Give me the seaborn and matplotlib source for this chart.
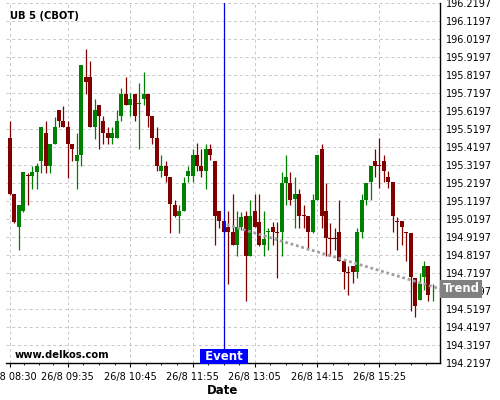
import numpy as np
import pandas as pd
import matplotlib
matplotlib.use("Agg")
import matplotlib.pyplot as plt
import matplotlib.transforms as mtransforms
from matplotlib.ticker import FixedLocator, FormatStrFormatter
import seaborn as sns

sns.set_style("ticks")
plt.rcParams['font.family'] = ['DejaVu Sans']
plt.rcParams['text.color'] = 'black'
plt.rcParams['axes.labelcolor'] = 'black'

# UB 5 (CBOT), 5 minute bars from 26/8 08:30
opens = [195.472, 195.161, 194.974, 195.064, 195.260, 195.257, 195.281, 195.344, 195.500, 195.316,
         195.437, 195.626, 195.563, 195.531, 195.437, 195.344, 195.377, 195.809, 195.809, 195.531,
         195.653, 195.563, 195.500, 195.473, 195.473, 195.592, 195.718, 195.655, 195.718, 195.660,
         195.687, 195.718, 195.592, 195.473, 195.287, 195.316, 195.255, 195.100, 195.035, 195.068,
         195.257, 195.257, 195.377, 195.318, 195.287, 195.409, 195.344, 195.066, 195.007, 194.974,
         194.948, 194.877, 194.974, 195.035, 194.818, 195.066, 195.003, 194.877, 194.947, 194.974,
         194.947, 194.948, 195.220, 195.220, 195.130, 195.159, 195.038, 195.035, 194.946, 195.127,
         195.409, 195.066, 194.914, 194.914, 194.946, 194.790, 194.724, 194.757, 194.724, 194.946,
         195.127, 195.224, 195.344, 195.318, 195.344, 195.253, 195.224, 195.007, 195.007, 194.945,
         194.942, 194.692, 194.572, 194.696, 194.757, 194.635]
highs = [195.566, 195.161, 195.098, 195.281, 195.279, 195.313, 195.330, 195.531, 195.563, 195.437,
         195.590, 195.626, 195.651, 195.563, 195.437, 195.500, 195.876, 195.963, 195.901, 195.687,
         195.653, 195.592, 195.531, 195.531, 195.624, 195.748, 195.809, 195.720, 195.718, 195.779,
         195.840, 195.718, 195.592, 195.531, 195.376, 195.344, 195.255, 195.127, 195.098, 195.253,
         195.316, 195.409, 195.442, 195.409, 195.439, 195.439, 195.344, 195.066, 195.010, 195.066,
         195.159, 195.066, 195.060, 195.066, 195.125, 195.159, 195.159, 195.066, 194.970, 195.003,
         195.003, 195.281, 195.377, 195.281, 195.253, 195.187, 195.100, 195.035, 195.159, 195.377,
         195.439, 195.220, 195.001, 194.970, 195.127, 194.790, 194.757, 194.757, 194.970, 195.159,
         195.220, 195.316, 195.409, 195.470, 195.377, 195.285, 195.224, 195.031, 195.007, 194.946,
         194.942, 194.692, 194.720, 194.785, 194.757, 194.659]
lows = [195.155, 195.001, 194.848, 195.060, 195.100, 195.189, 195.185, 195.277, 195.277, 195.277,
        195.437, 195.531, 195.531, 195.251, 195.342, 195.185, 195.316, 195.718, 195.531, 195.468,
        195.407, 195.437, 195.439, 195.439, 195.473, 195.563, 195.653, 195.594, 195.563, 195.407,
        195.655, 195.531, 195.437, 195.285, 195.253, 195.224, 194.942, 195.031, 194.942, 195.068,
        195.224, 195.224, 195.285, 195.253, 195.187, 195.346, 194.877, 194.970, 194.940, 194.660,
        194.877, 194.813, 194.960, 194.563, 194.818, 194.974, 194.870, 194.813, 194.846, 194.877,
        194.692, 194.815, 195.100, 195.100, 194.970, 194.970, 194.970, 194.850, 194.942, 195.125,
        194.970, 194.816, 194.813, 194.850, 194.790, 194.631, 194.600, 194.664, 194.692, 194.914,
        195.100, 195.127, 195.253, 195.192, 195.224, 195.192, 194.946, 194.850, 194.877, 194.790,
        194.507, 194.476, 194.570, 194.627, 194.568, 194.568]
closes = [195.161, 195.005, 195.098, 195.281, 195.258, 195.283, 195.314, 195.531, 195.316, 195.437,
          195.531, 195.563, 195.531, 195.437, 195.409, 195.377, 195.876, 195.783, 195.531, 195.626,
          195.592, 195.500, 195.473, 195.500, 195.563, 195.718, 195.653, 195.687, 195.592, 195.662,
          195.718, 195.592, 195.473, 195.318, 195.316, 195.257, 195.103, 195.035, 195.066, 195.222,
          195.285, 195.377, 195.318, 195.285, 195.409, 195.377, 195.035, 195.007, 194.946, 194.946,
          194.877, 194.974, 195.033, 194.818, 195.035, 194.974, 194.877, 194.911, 194.949, 194.948,
          194.945, 195.220, 195.252, 195.127, 195.159, 195.035, 195.036, 194.946, 195.127, 195.377,
          195.035, 194.914, 194.912, 194.912, 194.790, 194.724, 194.722, 194.724, 194.946, 195.127,
          195.220, 195.316, 195.316, 195.316, 195.285, 195.224, 195.035, 195.005, 194.974, 194.943,
          194.696, 194.540, 194.661, 194.757, 194.600, 194.637]

tick_bars = [0, 13, 27, 41, 55, 69, 83]
event_bar = 48
trend_bars = [48.7, 96.6]
trend_prices = [194.990, 194.633]
y_min, y_max = 194.2197, 196.2197

times = pd.date_range("2023-08-26 08:30", periods=len(opens), freq="5min")
df = pd.DataFrame({"open": opens, "high": highs, "low": lows, "close": closes})
df["bar"] = np.arange(len(df))
df["up"] = df["close"] >= df["open"]
colors = np.where(df["up"], "#008000", "#800000")
body_bottom = df[["open", "close"]].min(axis=1)
body_height = (df["close"] - df["open"]).abs().clip(lower=0.005)

fig = plt.figure(figsize=(5, 4), dpi=100)
ax = fig.add_axes([0.012, 0.092, 0.868, 0.9])

ax.vlines(df["bar"], df["low"], df["high"], colors=colors, lw=0.9, zorder=2)
ax.bar(df["bar"], body_height, bottom=body_bottom, width=0.9, color=colors, linewidth=0, zorder=2)

sns.lineplot(x=trend_bars, y=trend_prices, ax=ax, color="#a0a0a0", lw=2,
             linestyle=(0, (1, 1)), zorder=3)
ax.axvline(event_bar, color="#0000e0", lw=0.9, zorder=4)

ax.set_xlim(-0.9, 96.6)
ax.set_ylim(y_min, y_max)

# ticks
ax.yaxis.tick_right()
yt = y_min + 0.1 * np.arange(21)
ax.yaxis.set_major_locator(FixedLocator(yt))
ax.yaxis.set_minor_locator(FixedLocator(y_min + 0.02 * np.arange(101)))
ax.yaxis.set_major_formatter(FormatStrFormatter("%.4f"))

minor_x = []
edges = tick_bars + [tick_bars[-1] + 14]
for a, b in zip(edges[:-1], edges[1:]):
    minor_x += list(np.linspace(a, b, 5)[1:4])
ax.xaxis.set_major_locator(FixedLocator(tick_bars))
ax.xaxis.set_minor_locator(FixedLocator(minor_x))
ax.set_xticklabels([f"{times[i].day}/{times[i].month} {times[i]:%H:%M}" for i in tick_bars])

ax.tick_params(which="major", length=3, width=0.8, labelsize=7, colors="black", pad=1.5)
ax.tick_params(axis="x", which="major", pad=3)
ax.tick_params(which="minor", length=1.5, width=0.6, colors="black")

ax.grid(True, which="major", color="#c8c8c8", ls=(0, (3, 3)), lw=0.7)
ax.set_axisbelow(True)

sns.despine(ax=ax, left=True, top=True, right=False, bottom=False)
for s in ["right", "bottom"]:
    ax.spines[s].set_color("black")
    ax.spines[s].set_linewidth(1)

ax.set_xlabel("Date", fontsize=8.5, fontweight="bold", labelpad=2)
ax.set_ylabel("")

# labels
fig.text(10 / 500, 1 - 11 / 400, "UB 5 (CBOT)", fontsize=7.2, fontweight="bold", va="top", ha="left")
fig.text(15 / 500, 1 - 357.5 / 400, "www.delkos.com", fontsize=7.2, fontweight="bold",
         va="baseline", ha="left")

ev_tr = mtransforms.blended_transform_factory(ax.transData, ax.transAxes)
ax.text(event_bar, 0.0, " Event ", transform=ev_tr, ha="center", va="bottom", color="white",
        fontsize=8.5, fontweight="bold", zorder=5,
        bbox=dict(boxstyle="square,pad=0.1", fc="blue", ec="none"))

tr_tr = mtransforms.blended_transform_factory(ax.transAxes, ax.transData)
ax.annotate("Trend", xy=(1, trend_prices[-1]), xycoords=tr_tr, xytext=(2, 0),
            textcoords="offset points", ha="left", va="center", color="white",
            fontsize=8.4, fontweight="bold", annotation_clip=False, zorder=5,
            bbox=dict(boxstyle="square,pad=0.2", fc="#808080", ec="none"))

fig.savefig("out.png", dpi=100)
